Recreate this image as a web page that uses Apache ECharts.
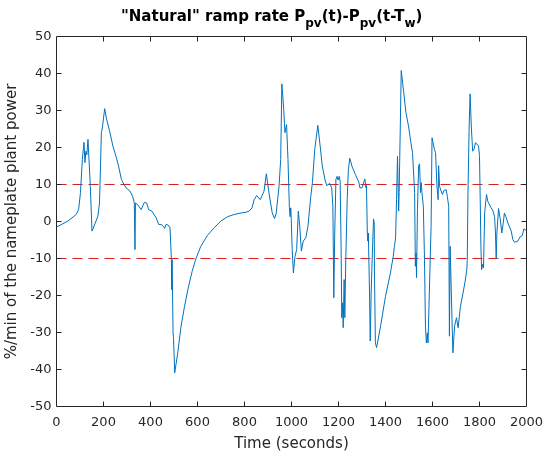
<!DOCTYPE html>
<html><head><meta charset="utf-8">
<script src="https://cdn.jsdelivr.net/npm/echarts@6/dist/echarts.min.js"></script>
<style>html,body{margin:0;padding:0;background:#fff}#c{width:546px;height:454px}</style>
</head><body><div id="c"></div>
<script>
// Time (seconds)
const timeSec = [0,48,84,94,102,110,117,121,125,129,134,138,144,151,158,165,176,183,191,195,205,212,226,240,255,264,276,287,296,313,324,331,334,336,345,360,374,384,392,406,424,435,445,455,460,466,476,483,489,490,492,496,498,503,516,530,545,559,577,593,614,643,671,699,728,756,785,806,820,832,841,852,860,867,873,883,893,904,918,928,935,947,954,959,967,972,979,985,991,994,997,999,1003,1008,1015,1022,1029,1035,1042,1050,1061,1070,1082,1089,1099,1112,1122,1131,1143,1150,1157,1163,1171,1176,1180,1184,1189,1194,1198,1203,1207,1211,1214,1217,1220,1224,1227,1231,1237,1242,1248,1258,1272,1287,1291,1300,1308,1312,1317,1319,1323,1325,1327,1332,1335,1339,1345,1349,1352,1353,1357,1362,1379,1400,1421,1433,1438,1443,1447,1451,1456,1458,1463,1467,1477,1487,1498,1508,1515,1521,1524,1527,1530,1532,1536,1541,1545,1549,1552,1555,1561,1566,1570,1574,1578,1581,1585,1591,1594,1598,1602,1608,1613,1619,1624,1626,1630,1636,1642,1649,1658,1663,1669,1672,1675,1679,1683,1687,1694,1702,1709,1719,1730,1739,1746,1748,1751,1756,1760,1765,1771,1777,1783,1790,1796,1800,1803,1806,1809,1813,1817,1822,1826,1830,1835,1842,1849,1856,1864,1868,1871,1874,1881,1888,1895,1901,1906,1914,1921,1928,1935,1942,1949,1956,1963,1973,1982,1989,1996,2000];
// Ramp rate (%/min)
const rampRate = [-1.5,0.1,1.9,3.2,7.8,16.8,21.4,15.9,19,18,22.2,21.7,9.5,-2.6,-2.2,-0.4,1.4,5,24,25.3,30.5,28,24.4,20.4,17.2,15,11.4,10,9.1,8.2,6.8,5,-7.6,5,4.6,3.2,5.2,5,3.2,2.8,1,-0.8,-0.8,-1.3,-1.9,-0.8,-1,-1.7,-10.3,-18.4,-10.3,-30.1,-31.4,-40.9,-35.5,-28.3,-22.9,-18.4,-13.5,-10.1,-6.7,-3.7,-1.7,0.1,1.3,1.9,2.3,2.5,2.8,3.7,5.9,7,6.6,5.9,5.8,8.2,12.9,7.8,2.3,0.8,2.3,9.5,16.8,37.2,30.3,24,26.2,16.8,3.7,1.3,3.7,0.5,-7.6,-13.9,-9.4,-7.6,2.8,-1.3,-8,-5.3,-4.4,-1.3,6.8,10.5,19.5,26,20.4,15,11.2,9.7,10,10.3,9.1,4.1,-20.6,-3.1,11.4,12.2,11.2,12.2,10.9,-6.7,-26,-22,-28.7,-15.7,-26,-10.3,5.9,14,17.1,14.8,12.7,10.5,9.1,9.1,9.5,11.5,9.1,9.7,-4,-5.3,-3.1,-19.3,-32.3,-19.3,-6.7,0.7,-0.4,-13.9,-32.8,-34.1,-28.3,-20.2,-13.9,-9.4,-6.7,-4.4,5.9,17.6,2.8,7.8,25.8,40.8,35.2,29.4,25.8,21.3,18.6,18.3,7.8,-12.1,-8.5,-15.2,3.2,15,15.6,7.8,10.5,7.8,4.1,-10.3,-28.3,-32.8,-30.1,-32.8,-22.9,-22.7,-1.3,22.6,22.2,19.5,18.6,9.5,5.9,15.1,9.5,9.1,7.3,8.4,8.6,6.8,4.1,-31,-6.7,-6.2,-26.5,-35.5,-28.3,-26,-28.7,-22.9,-19.3,-16.1,-13,-10.3,7.8,25.8,34.5,25.8,19,19.6,21.3,21.7,20.4,17.6,5.9,-6.7,-13,-11.6,-12.5,2.3,5,7.3,5.5,5.2,3.7,3.1,1.4,-3.1,-10,-3.1,3.5,0.7,-3.1,-0.4,2.3,1,-0.4,-0.8,-2.6,-4.9,-5.6,-5.3,-5.3,-4.1,-3.8,-2,-2.3,-2.5];
const thresholds = [10, -10];
const xTicks = [0,200,400,600,800,1000,1200,1400,1600,1800,2000];
const yTicks = [-50,-40,-30,-20,-10,0,10,20,30,40,50];

const FONT = 'DejaVu Sans';
const axisCol = '#262626';
const X_MIN = xTicks[0], X_MAX = xTicks[xTicks.length-1];
const Y_MIN = yTicks[0], Y_MAX = yTicks[yTicks.length-1];
const G = {left:56.5, top:36.5, right:19.5, bottom:47.5};
const TICK_PX = 5;

// frame (axes box)
const frameSegs = [
  [[X_MIN,Y_MIN],[X_MAX,Y_MIN]], [[X_MAX,Y_MIN],[X_MAX,Y_MAX]],
  [[X_MAX,Y_MAX],[X_MIN,Y_MAX]], [[X_MIN,Y_MAX],[X_MIN,Y_MIN]]
];
// tick anchors: [value, kind] kind 0 = x tick, 1 = y tick
const tickItems = [];
xTicks.slice(1,-1).forEach(x=>tickItems.push([x, Y_MIN, 0]));
yTicks.slice(1,-1).forEach(y=>tickItems.push([X_MIN, y, 1]));

const chart = echarts.init(document.getElementById('c'));
const option = {
  animation:false,
  title:{
    text:'{b|"Natural" ramp rate P}{s|pv}{b|(t)-P}{s|pv}{b|(t-T}{s|w}{b|)}',
    left:116, top:2,
    textStyle:{rich:{
      b:{fontFamily:FONT,fontWeight:'bold',fontSize:15,color:'#000',lineHeight:20},
      s:{fontFamily:FONT,fontWeight:'bold',fontSize:12,color:'#000',lineHeight:20,padding:[13,0,0,0]}
    }}
  },
  grid:{left:G.left,top:G.top,right:G.right,bottom:G.bottom,outerBoundsMode:'none'},
  xAxis:{type:'value',min:X_MIN,max:X_MAX,interval:200,
    axisLine:{show:false},axisTick:{show:false},splitLine:{show:false},
    name:'Time (seconds)',nameLocation:'middle',nameGap:30,
    nameTextStyle:{fontFamily:FONT,fontSize:15,color:'#262626'},
    axisLabel:{fontFamily:FONT,fontSize:13,color:'#262626',margin:10,
      formatter:v=>xTicks.includes(v)?String(v):''}},
  yAxis:{type:'value',min:Y_MIN,max:Y_MAX,interval:10,
    axisLine:{show:false},axisTick:{show:false},splitLine:{show:false},
    name:'%/min of the nameplate plant power',nameLocation:'middle',nameGap:25,
    nameTextStyle:{fontFamily:FONT,fontSize:15,color:'#262626'},
    axisLabel:{fontFamily:FONT,fontSize:13,color:'#262626',margin:5,
      formatter:v=>yTicks.includes(v)?String(v):''}},
  series:[
    {type:'line',data:timeSec.map((t,i)=>[t, rampRate[i]]),symbol:'none',
      lineStyle:{color:'#0072BD',width:1},z:3},
    {type:'line',data:[[X_MIN,thresholds[0]],[X_MAX,thresholds[0]]],symbol:'none',
      lineStyle:{color:'#dd1c1c',width:1,type:[10,6]},z:2},
    {type:'line',data:[[X_MIN,thresholds[1]],[X_MAX,thresholds[1]]],symbol:'none',
      lineStyle:{color:'#dd1c1c',width:1,type:[10,6]},z:2},
    {type:'lines',coordinateSystem:'cartesian2d',silent:true,z:4,
      data:frameSegs.map(s=>({coords:s})),
      lineStyle:{color:axisCol,width:1,opacity:1,curveness:0},effect:{show:false}},
    {type:'custom',coordinateSystem:'cartesian2d',silent:true,z:5,clip:false,
      data:tickItems,
      encode:{x:0,y:1},
      renderItem:function(params, api){
        const kind = api.value(2);
        const p = api.coord([api.value(0), api.value(1)]);
        const cs = params.coordSys;
        const st = {stroke:axisCol, lineWidth:1, fill:null};
        if(kind === 0){
          const top = cs.y, bot = cs.y + cs.height;
          return {type:'group',children:[
            {type:'line',shape:{x1:p[0],y1:bot,x2:p[0],y2:bot-TICK_PX},style:st},
            {type:'line',shape:{x1:p[0],y1:top,x2:p[0],y2:top+TICK_PX},style:st}
          ]};
        } else {
          const l = cs.x, r = cs.x + cs.width;
          return {type:'group',children:[
            {type:'line',shape:{x1:l,y1:p[1],x2:l+TICK_PX,y2:p[1]},style:st},
            {type:'line',shape:{x1:r,y1:p[1],x2:r-TICK_PX,y2:p[1]},style:st}
          ]};
        }
      }}
  ]
};
chart.setOption(option);
</script></body></html>
